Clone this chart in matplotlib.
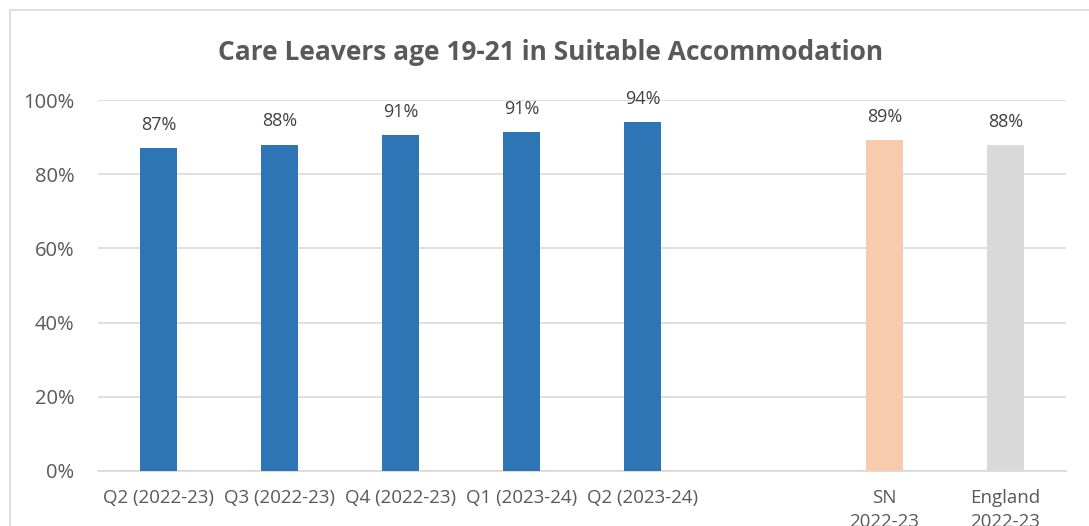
import matplotlib.pyplot as plt
from matplotlib.patches import Rectangle

categories = ["Q2 (2022-23)", "Q3 (2022-23)", "Q4 (2022-23)", "Q1 (2023-24)",
              "Q2 (2023-24)", "", "SN\n2022-23", "England\n2022-23"]
values = [87.0, 88.0, 90.6, 91.4, 94.1, None, 89.2, 87.9]
labels = ["87%", "88%", "91%", "91%", "94%", "", "89%", "88%"]
colors = ["#2e75b6"] * 6 + ["#f8cbad", "#d9d9d9"]

plt.rcParams["font.family"] = ["Open Sans", "DejaVu Sans"]

fig = plt.figure(figsize=(10.89, 5.26), dpi=100)
fig.patches.append(Rectangle((10 / 1089, -0.1), 1.2, 1 - 10 / 526 + 0.1,
                             transform=fig.transFigure, fill=False,
                             edgecolor="#d9d9d9", linewidth=1.2))

ax = fig.add_axes([98 / 1089, 1 - 471 / 526, 968 / 1089, 371 / 526])
x = list(range(len(categories)))
for i, v in enumerate(values):
    if v is None:
        continue
    ax.bar(i, v, width=0.31, color=colors[i], zorder=3)
    ax.text(i, v + 3.8, labels[i], ha="center", va="bottom", fontsize=13, color="#404040")

ax.set_xlim(-0.5, len(categories) - 0.5)
ax.set_ylim(0, 100)
ax.set_yticks([0, 20, 40, 60, 80, 100])
ax.set_yticklabels(["0%", "20%", "40%", "60%", "80%", "100%"], fontsize=14.5, color="#595959")
ax.set_xticks(x)
ax.set_xticklabels(categories, fontsize=13.5, color="#595959", linespacing=1.45)
ax.tick_params(axis="both", length=0)
ax.tick_params(axis="x", pad=13)
ax.tick_params(axis="y", pad=17)
ax.grid(axis="y", color="#d9d9d9", linewidth=1.2, zorder=0)
for s in ["top", "right", "left"]:
    ax.spines[s].set_visible(False)
ax.spines["bottom"].set_color("#d9d9d9")
ax.spines["bottom"].set_linewidth(1.2)

fig.text(551 / 1089, 1 - 52 / 526, "Care Leavers age 19-21 in Suitable Accommodation",
         ha="center", va="center", fontsize=19, fontweight="bold", color="#595959")

fig.savefig("out.png", dpi=100)
